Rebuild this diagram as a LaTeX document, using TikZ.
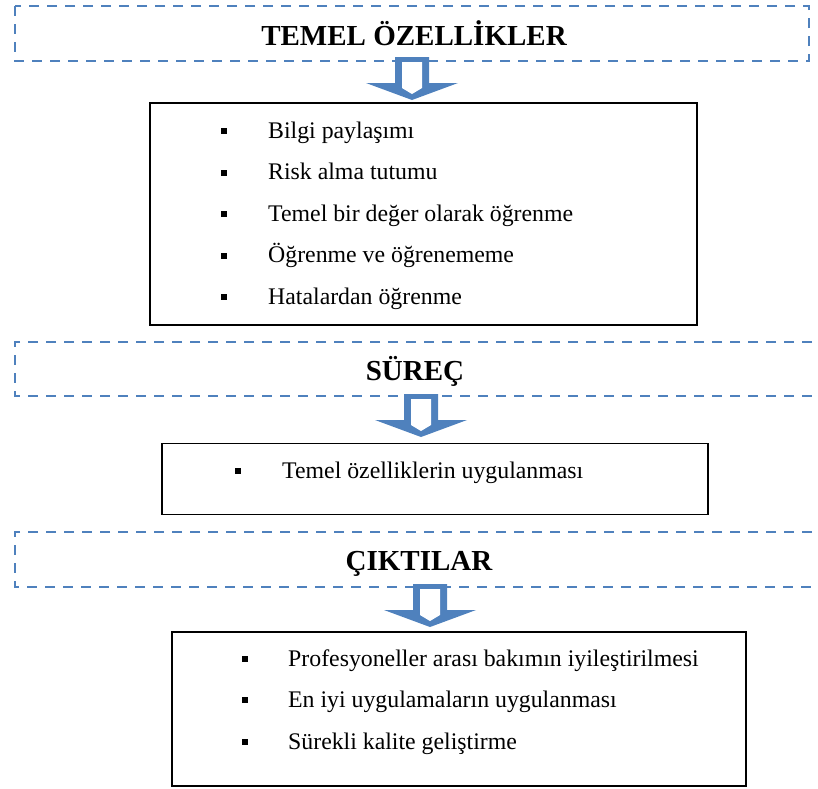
\documentclass[tikz,border=0pt]{standalone}
\usepackage{fontspec}
\setmainfont{Liberation Serif}
\usepackage{tikz}
\usetikzlibrary{positioning}

\definecolor{officeblue}{HTML}{4F81BD}

\tikzset{
	dashbox/.style={officeblue, line width=2.3pt, dash pattern=on 10pt off 8pt},
	listbox/.style={draw=black, line width=1.8pt, inner sep=0pt},
	heading/.style={anchor=base, inner sep=0pt, font=\bfseries\fontsize{29}{34}\selectfont},
	item/.style={anchor=base west, inner sep=0pt, font=\fontsize{23.8}{28}\selectfont},
	bullet/.style={fill=black, inner sep=0pt, minimum size=6pt},
}

\begin{document}
\begin{tikzpicture}[x=1pt, y=-1pt]
		\useasboundingbox (0, 0) rectangle (818, 788);

		%%% Dashed title frames
		\draw[dashbox] (15, 6) rectangle (809, 61);
		\draw[dashbox] (830, 342) -- (15, 342) -- (15, 396) -- (830, 396);
		\draw[dashbox] (830, 532) -- (15, 532) -- (15, 587) -- (830, 587);

		\node[heading] (temel) at (414, 45) {TEMEL ÖZELLİKLER};
		\node[heading] (surec) at (415, 380) {SÜREÇ};
		\node[heading] (cikti) at (419, 570) {ÇIKTILAR};

		%%% Block arrows
		\foreach \x/\y in {412/57, 421/394, 430/584} {
			\fill[officeblue] (\x-17, \y) -- (\x+17, \y) -- (\x+17, \y+26) -- (\x+46, \y+26)
				-- (\x, \y+43) -- (\x-46, \y+26) -- (\x-17, \y+26) -- cycle;
			\fill[white] (\x-10, \y+5) -- (\x+10, \y+5) -- (\x+10, \y+31) -- (\x, \y+37)
				-- (\x-10, \y+31) -- cycle;
		}

		%%% Boxes
		\node[listbox, minimum width=547pt, minimum height=222pt] (ozellik) at (423.5, 214) {};
		\node[listbox, minimum width=546pt, minimum height=71pt] (uygula) at (435, 479) {};
		\node[listbox, minimum width=574pt, minimum height=154pt] (sonuc) at (459, 709) {};

		%%% Items
		\node[item] (o1) at (268, 138) {Bilgi paylaşımı};
		\node[item] (o2) at (268, 179.5) {Risk alma tutumu};
		\node[item] (o3) at (268, 221) {Temel bir değer olarak öğrenme};
		\node[item] (o4) at (268, 262.5) {Öğrenme ve öğrenememe};
		\node[item] (o5) at (268, 304) {Hatalardan öğrenme};
		\foreach \y in {138, 179.5, 221, 262.5, 304} {
			\node[bullet] at (224, \y-7) {};
		}

		\node[item] (u1) at (282, 478) {Temel özelliklerin uygulanması};
		\node[bullet] at (238, 471) {};

		\node[item] (s1) at (288, 666) {Profesyoneller arası bakımın iyileştirilmesi};
		\node[item] (s2) at (288, 707) {En iyi uygulamaların uygulanması};
		\node[item] (s3) at (288, 749) {Sürekli kalite geliştirme};
		\foreach \y in {666, 707, 749} {
			\node[bullet] at (245, \y-7) {};
		}
\end{tikzpicture}
\end{document}
